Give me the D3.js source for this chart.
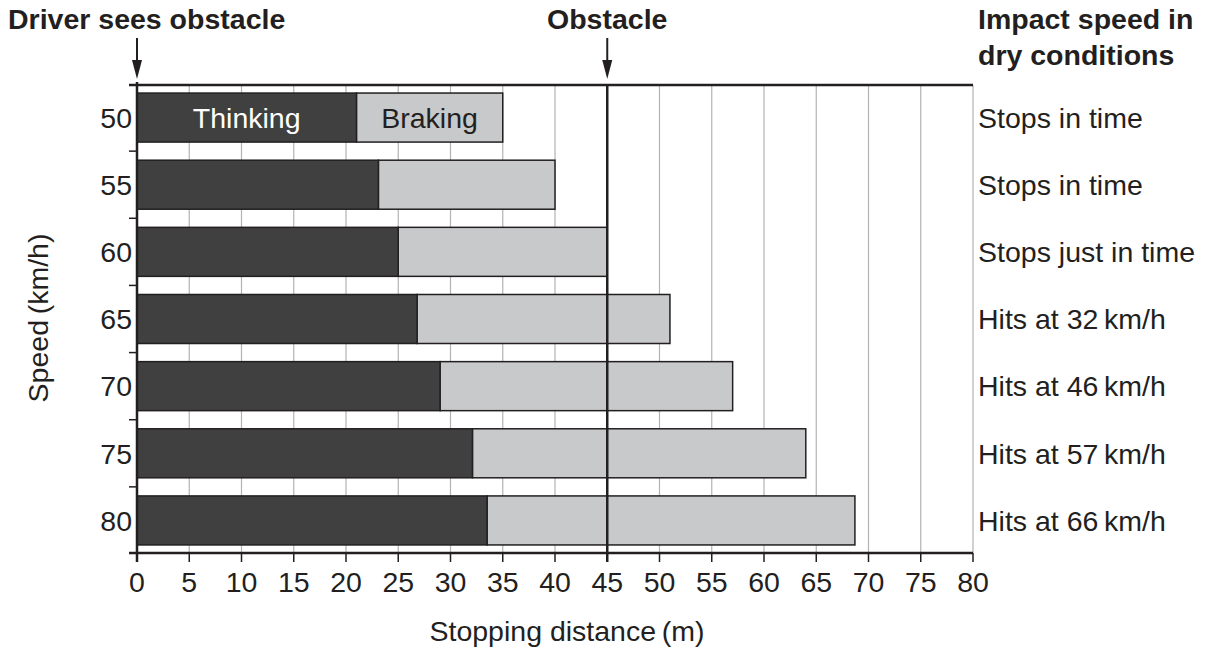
<!DOCTYPE html>
<html><head><meta charset="utf-8">
<script src="https://cdn.jsdelivr.net/npm/d3@7"></script>
<style>body{margin:0;background:#fff}svg{display:block}text{font-family:"Liberation Sans",Arial,Helvetica,sans-serif;fill:#231f20}</style>
</head><body>
<svg id="c" width="1212" height="650"></svg>
<script>
const speeds = ["50","55","60","65","70","75","80"];
const thinking = [21, 23.1, 25, 26.8, 29, 32.1, 33.5];
const braking = [14, 16.9, 20, 24.2, 28, 31.9, 35.2];
const impact = ["Stops in time","Stops in time","Stops just in time","Hits at 32\u2009km/h","Hits at 46\u2009km/h","Hits at 57\u2009km/h","Hits at 66\u2009km/h"];
const xTicks = [0,5,10,15,20,25,30,35,40,45,50,55,60,65,70,75,80];
const obstacle = 45;

const ink = "#231f20";
const FS = 28.5;
const svg = d3.select("#c");
const x = d3.scaleLinear().domain([0,80]).range([137,973]);
const y = d3.scaleBand().domain(speeds).range([85,553]).paddingInner(0.27).paddingOuter(0.12);
const y0 = 85, y1 = 553;

// gridlines
svg.append("g").selectAll("line").data(xTicks.filter(d=>d>0)).join("line")
  .attr("x1",d=>x(d)).attr("x2",d=>x(d)).attr("y1",y0).attr("y2",y1)
  .attr("stroke","#b3b3b3").attr("stroke-width",1.2);

// bars
const rows = speeds.map((s,i)=>({s,t:thinking[i],b:braking[i]}));
svg.append("g").selectAll("rect").data(rows).join("rect")
  .attr("x",d=>x(d.t)).attr("y",d=>y(d.s)).attr("width",d=>x(d.t+d.b)-x(d.t)).attr("height",y.bandwidth())
  .attr("fill","#c8c9cb").attr("stroke",ink).attr("stroke-width",1.5);
svg.append("g").selectAll("rect").data(rows).join("rect")
  .attr("x",x(0)).attr("y",d=>y(d.s)).attr("width",d=>x(d.t)-x(0)).attr("height",y.bandwidth())
  .attr("fill","#404040").attr("stroke",ink).attr("stroke-width",1.5);

// in-bar labels
const r0 = rows[0];
svg.append("text").attr("x",x(r0.t/2)).attr("y",y(r0.s)+y.bandwidth()/2).attr("dy","0.36em")
  .attr("text-anchor","middle").attr("font-size",FS).style("fill","#fff").text("Thinking");
svg.append("text").attr("x",x(r0.t+r0.b/2)).attr("y",y(r0.s)+y.bandwidth()/2).attr("dy","0.36em")
  .attr("text-anchor","middle").attr("font-size",FS).text("Braking");

// top and bottom frame lines
[y0,y1].forEach(yy=>svg.append("line").attr("x1",129).attr("x2",x(80)).attr("y1",yy).attr("y2",yy)
  .attr("stroke",ink).attr("stroke-width",2.5));

// y axis line
svg.append("line").attr("x1",x(0)).attr("x2",x(0)).attr("y1",y0-3).attr("y2",y1+9)
  .attr("stroke",ink).attr("stroke-width",2.5);
// obstacle line
svg.append("line").attr("x1",x(obstacle)).attr("x2",x(obstacle)).attr("y1",y0).attr("y2",y1+9)
  .attr("stroke",ink).attr("stroke-width",2.5);

// y boundary ticks
const bounds = speeds.slice(1).map(s=>y(s)-(y.step()-y.bandwidth())/2);
svg.append("g").selectAll("line").data(bounds).join("line")
  .attr("x1",129).attr("x2",x(0)).attr("y1",d=>d).attr("y2",d=>d)
  .attr("stroke",ink).attr("stroke-width",1.5);

// x ticks
svg.append("g").selectAll("line").data(xTicks).join("line")
  .attr("x1",d=>x(d)).attr("x2",d=>x(d)).attr("y1",y1).attr("y2",y1+9)
  .attr("stroke",ink).attr("stroke-width",1.5);
svg.append("g").selectAll("text").data(xTicks).join("text")
  .attr("x",d=>x(d)).attr("y",592).attr("text-anchor","middle").attr("font-size",FS).text(d=>d);

// y tick labels
svg.append("g").selectAll("text").data(speeds).join("text")
  .attr("x",132).attr("y",d=>y(d)+y.bandwidth()/2).attr("dy","0.36em").attr("text-anchor","end")
  .attr("font-size",FS).text(d=>d);

// right labels
svg.append("g").selectAll("text").data(impact).join("text")
  .attr("x",978).attr("y",(d,i)=>y(speeds[i])+y.bandwidth()/2).attr("dy","0.36em")
  .attr("font-size",FS).text(d=>d);

// axis titles
svg.append("text").attr("x",567).attr("y",641).attr("text-anchor","middle").attr("font-size",FS)
  .text("Stopping distance\u2009(m)");
svg.append("text").attr("transform","translate(48,318) rotate(-90)").attr("text-anchor","middle").attr("font-size",FS)
  .text("Speed\u2009(km/h)");

// headings
svg.append("text").attr("x",8).attr("y",29).attr("font-size",FS).attr("font-weight","bold").text("Driver sees obstacle");
svg.append("text").attr("x",x(obstacle)).attr("y",29).attr("text-anchor","middle").attr("font-size",FS).attr("font-weight","bold").text("Obstacle");
svg.append("text").attr("x",978).attr("y",29).attr("font-size",FS).attr("font-weight","bold").text("Impact speed in");
svg.append("text").attr("x",978).attr("y",65).attr("font-size",FS).attr("font-weight","bold").text("dry conditions");

// arrows
[0, obstacle].forEach(v=>{
  const cx = x(v);
  svg.append("line").attr("x1",cx).attr("x2",cx).attr("y1",38).attr("y2",64).attr("stroke",ink).attr("stroke-width",2);
  svg.append("path").attr("d",`M${cx-5},60 L${cx+5},60 L${cx},79 Z`).attr("fill",ink);
});
</script>
</body></html>
